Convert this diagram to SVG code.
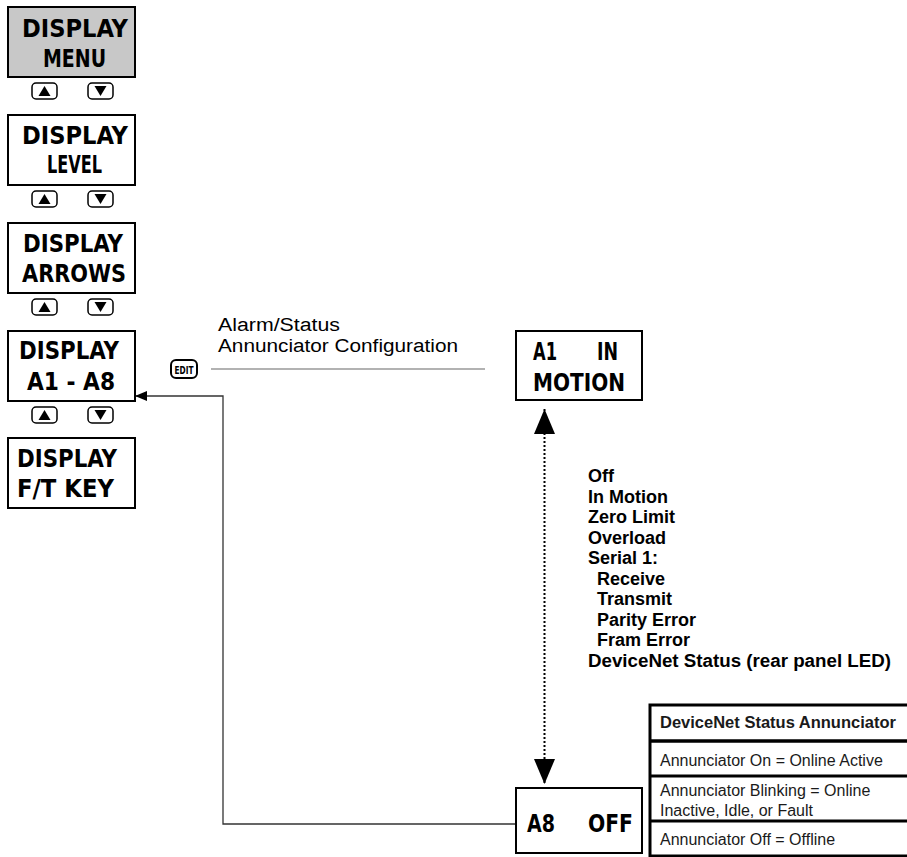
<svg xmlns="http://www.w3.org/2000/svg" xmlns:xlink="http://www.w3.org/1999/xlink" width="907" height="857" viewBox="0 0 907 857">
<style>
.box{fill:#fff;stroke:#000;stroke-width:2}
.menu{fill:#c8c8c8}
.lcd{font-family:"DejaVu Sans Condensed","DejaVu Sans","Liberation Sans",sans-serif;font-weight:bold;font-size:25px;fill:#000}
.btn{fill:#fff;stroke:#000;stroke-width:1.5}
.tri{fill:#000}
.lbl{font-family:"Liberation Sans",Arial,sans-serif;font-size:18px;fill:#000}
.list{font-family:"Liberation Sans",Arial,sans-serif;font-size:18px;font-weight:bold;fill:#000}
.th{font-family:"Liberation Sans",Arial,sans-serif;font-size:16.5px;font-weight:bold;fill:#1a1a1a}
.td{font-family:"Liberation Sans",Arial,sans-serif;font-size:16px;fill:#1a1a1a}
.tbl{fill:#fff;stroke:#000;stroke-width:3}
.conn{fill:none;stroke:#333;stroke-width:1.3}
.rule{fill:none;stroke:#999;stroke-width:1.5}
.dots{fill:none;stroke:#000;stroke-width:2;stroke-dasharray:2 2}
</style>
<defs>
<g id="upBtn"><rect class="btn" x="-12.5" y="-8" width="25" height="16" rx="4"/><polygon class="tri" points="-6,5 6,5 0,-5"/></g>
<g id="dnBtn"><rect class="btn" x="-12.5" y="-8" width="25" height="16" rx="4"/><polygon class="tri" points="-6,-5 6,-5 0,5"/></g>
<marker id="small" viewBox="0 0 12 10" refX="12" refY="5" markerWidth="12" markerHeight="10" markerUnits="userSpaceOnUse" orient="auto"><path d="M0,0 L12,5 L0,10 z" fill="#000"/></marker>
<marker id="big" viewBox="0 0 25 21" refX="25" refY="10.5" markerWidth="25" markerHeight="21" markerUnits="userSpaceOnUse" orient="auto-start-reverse"><path d="M0,0 L25,10.5 L0,21 z" fill="#000"/></marker>
</defs>

<g id="connectors">
<path class="rule" d="M211,369 H485"/>
<path class="conn" d="M516,824 H223 V396 H135" marker-end="url(#small)"/>
<line class="dots" x1="544.5" y1="409" x2="544.5" y2="784" marker-start="url(#big)" marker-end="url(#big)"/>
</g>

<g id="node-display-menu">
<rect class="box menu" x="8" y="7" width="127" height="70"/>
<text class="lcd" x="22" y="37" textLength="106" lengthAdjust="spacingAndGlyphs">DISPLAY</text>
<text class="lcd" x="43" y="67" textLength="63" lengthAdjust="spacingAndGlyphs">MENU</text>
</g>
<g id="buttons-1"><use xlink:href="#upBtn" x="44.5" y="91"/><use xlink:href="#dnBtn" x="100.5" y="91"/></g>

<g id="node-display-level">
<rect class="box" x="8" y="115" width="127" height="70"/>
<text class="lcd" x="22" y="144" textLength="106" lengthAdjust="spacingAndGlyphs">DISPLAY</text>
<text class="lcd" x="47" y="173" textLength="55" lengthAdjust="spacingAndGlyphs">LEVEL</text>
</g>
<g id="buttons-2"><use xlink:href="#upBtn" x="44.5" y="199"/><use xlink:href="#dnBtn" x="100.5" y="199"/></g>

<g id="node-display-arrows">
<rect class="box" x="8" y="223" width="127" height="70"/>
<text class="lcd" x="23" y="252" textLength="100" lengthAdjust="spacingAndGlyphs">DISPLAY</text>
<text class="lcd" x="22" y="282" textLength="104" lengthAdjust="spacingAndGlyphs">ARROWS</text>
</g>
<g id="buttons-3"><use xlink:href="#upBtn" x="44.5" y="307"/><use xlink:href="#dnBtn" x="100.5" y="307"/></g>

<g id="node-display-a1-a8">
<rect class="box" x="8" y="331" width="127" height="70"/>
<text class="lcd" x="19" y="359" textLength="100" lengthAdjust="spacingAndGlyphs">DISPLAY</text>
<text class="lcd" x="27" y="390" textLength="88" lengthAdjust="spacingAndGlyphs">A1 - A8</text>
</g>
<g id="buttons-4"><use xlink:href="#upBtn" x="44.5" y="415"/><use xlink:href="#dnBtn" x="100.5" y="415"/></g>

<g id="node-display-ft-key">
<rect class="box" x="8" y="438" width="127" height="70"/>
<text class="lcd" x="17" y="467" textLength="100" lengthAdjust="spacingAndGlyphs">DISPLAY</text>
<text class="lcd" x="17" y="497" textLength="97" lengthAdjust="spacingAndGlyphs">F/T KEY</text>
</g>

<g id="edit-key">
<rect x="171" y="360" width="26" height="18" rx="5" fill="#fff" stroke="#000" stroke-width="2"/>
<text x="184" y="373.5" text-anchor="middle" font-family="'DejaVu Sans Condensed','DejaVu Sans',sans-serif" font-weight="bold" font-size="10" textLength="19" lengthAdjust="spacingAndGlyphs">EDIT</text>
</g>

<g id="label-config">
<text class="lbl" x="218" y="331" textLength="122" lengthAdjust="spacingAndGlyphs">Alarm/Status</text>
<text class="lbl" x="218" y="352" textLength="240" lengthAdjust="spacingAndGlyphs">Annunciator Configuration</text>
</g>

<g id="node-a1-in-motion">
<rect class="box" x="516" y="331" width="126" height="69"/>
<text class="lcd" y="360"><tspan x="533" textLength="24" lengthAdjust="spacingAndGlyphs">A1</tspan> <tspan x="597" textLength="21" lengthAdjust="spacingAndGlyphs">IN</tspan></text>
<text class="lcd" x="533" y="391" textLength="92" lengthAdjust="spacingAndGlyphs">MOTION</text>
</g>

<g id="option-list">
<text class="list" x="588" y="482">Off</text>
<text class="list" x="588" y="502.5">In Motion</text>
<text class="list" x="588" y="523">Zero Limit</text>
<text class="list" x="588" y="543.5">Overload</text>
<text class="list" x="588" y="564">Serial 1:</text>
<text class="list" x="597" y="584.5">Receive</text>
<text class="list" x="597" y="605">Transmit</text>
<text class="list" x="597" y="625.5">Parity Error</text>
<text class="list" x="597" y="646">Fram Error</text>
<text class="list" x="588" y="666.5" textLength="303" lengthAdjust="spacingAndGlyphs">DeviceNet Status (rear panel LED)</text>
</g>

<g id="node-a8-off">
<rect class="box" x="516" y="788" width="126" height="65"/>
<text class="lcd" y="832"><tspan x="527" textLength="28" lengthAdjust="spacingAndGlyphs">A8</tspan> <tspan x="588" textLength="45" lengthAdjust="spacingAndGlyphs">OFF</tspan></text>
</g>

<g id="status-table">
<rect class="tbl" x="650" y="705" width="262" height="151"/>
<line x1="650" y1="741" x2="912" y2="741" stroke="#000" stroke-width="3.5"/>
<line x1="650" y1="776" x2="912" y2="776" stroke="#000" stroke-width="3"/>
<line x1="650" y1="821" x2="912" y2="821" stroke="#000" stroke-width="3"/>
<text class="th" x="660" y="728">DeviceNet Status Annunciator</text>
<text class="td" x="660" y="766">Annunciator On = Online Active</text>
<text class="td" x="660" y="796">Annunciator Blinking = Online</text>
<text class="td" x="660" y="816">Inactive, Idle, or Fault</text>
<text class="td" x="660" y="845">Annunciator Off = Offline</text>
</g>
</svg>
